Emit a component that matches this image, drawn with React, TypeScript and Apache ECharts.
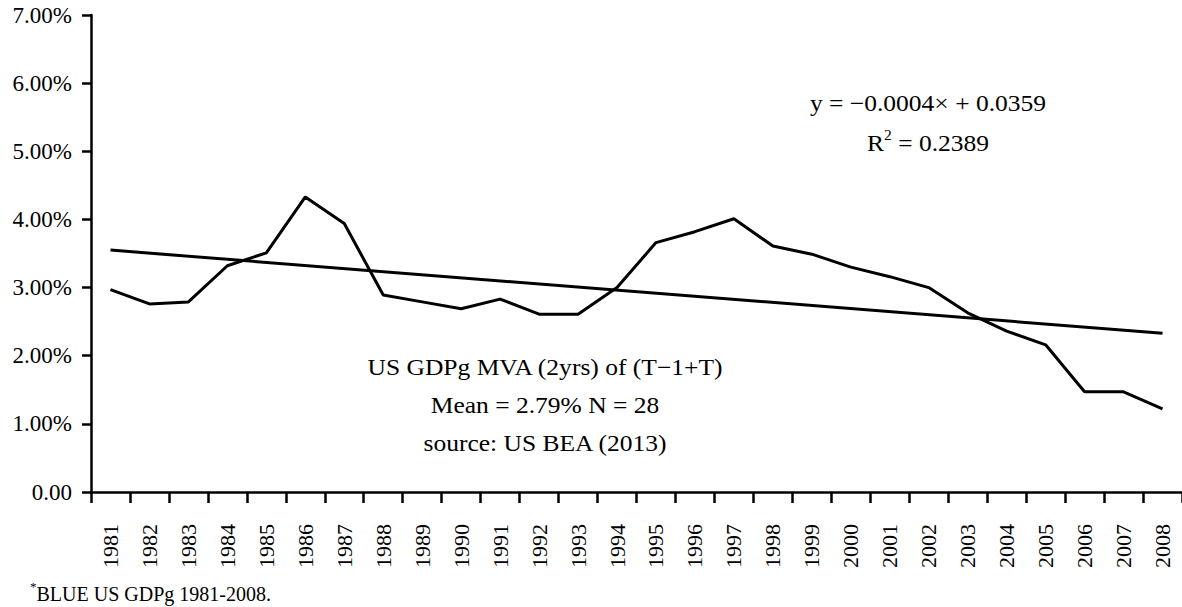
import React, { useEffect, useRef } from "react";
import * as echarts from "echarts";

const years = [
  "1981", "1982", "1983", "1984", "1985", "1986", "1987", "1988", "1989", "1990",
  "1991", "1992", "1993", "1994", "1995", "1996", "1997", "1998", "1999", "2000",
  "2001", "2002", "2003", "2004", "2005", "2006", "2007", "2008",
];

// US GDP growth, 2-year moving average (%)
const gdpMva = [
  2.97, 2.76, 2.79, 3.32, 3.51, 4.33, 3.94, 2.89, 2.79, 2.69,
  2.83, 2.61, 2.61, 3.0, 3.66, 3.82, 4.01, 3.61, 3.49, 3.3,
  3.16, 3.0, 2.63, 2.36, 2.16, 1.47, 1.47, 1.22,
];

// Linear trend line end points (%), first and last year
const trendEnds = [3.55, 2.33];

const FONT = "Liberation Serif, serif";

export default function App() {
  const ref = useRef<HTMLDivElement>(null);

  useEffect(() => {
    if (!ref.current) return;
    const chart = echarts.init(ref.current, null, { renderer: "svg" });
    const last = years.length - 1;
    const trendData = years.map((_, i) =>
      i === 0 ? trendEnds[0] : i === last ? trendEnds[1] : null
    );

    const note = (text: string, x: number, y: number) => ({
      type: "text",
      x,
      y,
      scaleX: 1.11,
      style: {
        text,
        fontFamily: FONT,
        fontSize: 23,
        fill: "#000",
        textAlign: "center",
        textVerticalAlign: "middle",
      },
    });

    chart.setOption({
      animation: false,
      backgroundColor: "#ffffff",
      grid: { left: 91, top: 15, bottom: 115, width: 1095, containLabel: false },
      xAxis: {
        type: "category",
        data: years,
        boundaryGap: true,
        axisLine: { lineStyle: { color: "#000", width: 2.5 } },
        axisTick: { show: true, length: 11, inside: false, lineStyle: { color: "#000", width: 2.5 } },
        axisLabel: {
          rotate: 90,
          margin: 32,
          color: "#000",
          fontFamily: FONT,
          fontSize: 22,
          interval: 0,
        },
        splitLine: { show: false },
      },
      yAxis: {
        type: "value",
        min: 0,
        max: 7,
        interval: 1,
        axisLine: { show: true, lineStyle: { color: "#000", width: 2.5 } },
        axisTick: { show: true, length: 9, lineStyle: { color: "#000", width: 2.5 } },
        axisLabel: {
          margin: 19,
          color: "#000",
          fontFamily: FONT,
          fontSize: 23,
          formatter: (v: number) => (v === 0 ? "0.00" : v.toFixed(2) + "%"),
        },
        splitLine: { show: false },
      },
      series: [
        {
          type: "line",
          data: gdpMva,
          symbol: "none",
          lineStyle: { color: "#000", width: 3 },
          z: 3,
        },
        {
          type: "line",
          data: trendData,
          connectNulls: true,
          symbol: "none",
          lineStyle: { color: "#000", width: 3 },
          z: 2,
        },
      ],
      graphic: [
        note("y = −0.0004× + 0.0359", 928, 103),
        {
          type: "text",
          x: 928,
          y: 141,
          scaleX: 1.11,
          style: {
            text: "{a|R}{s|2}{a| = 0.2389}",
            fill: "#000",
            textAlign: "center",
            textVerticalAlign: "middle",
            rich: {
              a: { fontFamily: FONT, fontSize: 23, fill: "#000", lineHeight: 26, verticalAlign: "bottom" },
              s: { fontFamily: FONT, fontSize: 14, fill: "#000", lineHeight: 26, verticalAlign: "top" },
            },
          },
        },
        note("US GDPg MVA (2yrs) of (T−1+T)", 545, 367),
        note("Mean = 2.79% N = 28", 545, 405),
        note("source: US BEA (2013)", 545, 443),
        {
          type: "text",
          x: 30,
          y: 592,
          style: {
            text: "{s|*}{a|BLUE US GDPg 1981-2008.}",
            fill: "#000",
            textAlign: "left",
            textVerticalAlign: "middle",
            rich: {
              a: { fontFamily: FONT, fontSize: 20, fill: "#000", lineHeight: 24, verticalAlign: "bottom" },
              s: { fontFamily: FONT, fontSize: 13, fill: "#000", lineHeight: 24, verticalAlign: "top" },
            },
          },
        },
      ],
    });

    return () => chart.dispose();
  }, []);

  return (
    <div
      ref={ref}
      style={{ position: "fixed", left: 0, top: 0, width: 1182, height: 607, background: "#fff" }}
    />
  );
}
